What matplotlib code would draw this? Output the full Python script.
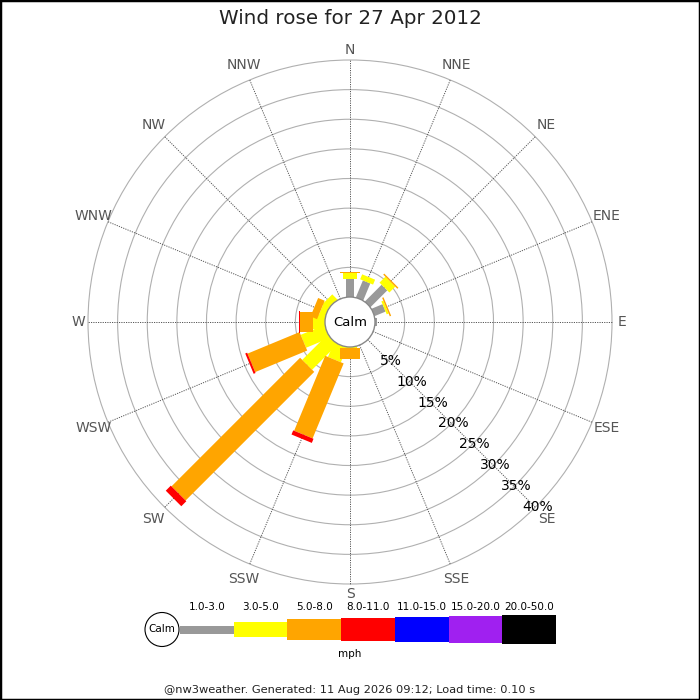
import numpy as np
import matplotlib
matplotlib.use("Agg")
import matplotlib.pyplot as plt
from matplotlib.patches import Circle, Polygon, Rectangle

TITLE = "Wind rose for 27 Apr 2012"
FOOTER = "@nw3weather. Generated: 11 Aug 2026 09:12; Load time: 0.10 s"
UNIT = "mph"

DIRECTIONS = ["N", "NNE", "NE", "ENE", "E", "ESE", "SE", "SSE",
              "S", "SSW", "SW", "WSW", "W", "WNW", "NW", "NNW"]
SPEED_BANDS = ["1.0-3.0", "3.0-5.0", "5.0-8.0", "8.0-11.0",
               "11.0-15.0", "15.0-20.0", "20.0-50.0"]
BAND_COLORS = ["#999999", "#ffff00", "#ffa500", "#ff0000",
               "#0000ff", "#a020f0", "#000000"]

# % of the day per direction, per speed band (only the first four occur)
band_1_3 = [3.0, 3.1, 4.0, 2.0, 0.4, 0, 0, 0, 0, 0, 0, 0, 0, 0, 0, 0]
band_3_5 = [1.0, 0.9, 1.4, 0.35, 0, 0, 0, 0, 0.2, 2.65, 6.0, 4.3, 2.0, 1.1, 1.2, 0]
band_5_8 = [0.25, 0, 0.25, 0.25, 0, 0, 0, 0, 1.9, 13.7, 30.7, 9.5, 2.2, 1.2, 0, 0]
band_8_11 = [0, 0, 0, 0, 0, 0, 0, 0, 0, 0.75, 1.2, 0.35, 0.25, 0, 0, 0]
RING_PCTS = [5, 10, 15, 20, 25, 30, 35, 40]

# layout (1 data unit = 1 px, origin at rose centre)
CALM_R = 25
OUTER_R = 262
PX_PER_PCT = (OUTER_R - CALM_R) / RING_PCTS[-1]
BAR_W = [8, 14, 20, 22, 24, 26, 28]
LEG_H = [8, 15, 21.5, 23.5, 25, 27, 29]
LABEL_GREY = "#555555"

fig = plt.figure(figsize=(7, 7), dpi=100)
ax = fig.add_axes([0, 0, 1, 1])
ax.set_xlim(-350, 350)
ax.set_ylim(-378, 322)
ax.set_aspect("equal")
ax.axis("off")

# grid rings + spokes
for p in RING_PCTS:
    ax.add_patch(Circle((0, 0), CALM_R + p * PX_PER_PCT, fill=False,
                        ec="#b0b0b0", lw=0.8, zorder=1))
angles = np.deg2rad(np.arange(len(DIRECTIONS)) * 360 / len(DIRECTIONS))
for name, a in zip(DIRECTIONS, angles):
    u = np.array([np.sin(a), np.cos(a)])
    ax.plot([CALM_R * u[0], OUTER_R * u[0]], [CALM_R * u[1], OUTER_R * u[1]],
            ls=(0, (1.2, 1.2)), color="#555555", lw=0.7, zorder=1)
    lr = 272 if name in ("N", "E", "S", "W") else 278
    ax.text(lr * u[0], lr * u[1], name, ha="center", va="center",
            fontsize=10, color=LABEL_GREY)

# bars
bands = [band_1_3, band_3_5, band_5_8, band_8_11]
for d, a in enumerate(angles):
    u = np.array([np.sin(a), np.cos(a)])
    v = np.array([np.cos(a), -np.sin(a)])
    r = CALM_R
    for b, vals in enumerate(bands):
        val = vals[d]
        if val <= 0:
            continue
        r1 = r + val * PX_PER_PCT
        r0 = 0 if r == CALM_R else r
        hw = BAR_W[b] / 2
        pts = [r0 * u + hw * v, r1 * u + hw * v, r1 * u - hw * v, r0 * u - hw * v]
        ax.add_patch(Polygon(pts, closed=True, fc=BAND_COLORS[b], ec="none",
                             zorder=2 + b * 0.1))
        r = r1

# calm circle
ax.add_patch(Circle((0, 0), CALM_R, fc="white", ec="#888888", lw=1, zorder=5))
ax.text(0, 0, "Calm", ha="center", va="center", fontsize=9.5, zorder=6)

# ring labels along SE
se = np.deg2rad(135)
for p in RING_PCTS:
    rr = CALM_R + p * PX_PER_PCT
    ax.text(rr * np.sin(se) + 2, rr * np.cos(se), f"{p}%", ha="center",
            va="center", fontsize=10, zorder=6)

# legend
leg_y = -307.5
leg_x0 = -170
seg = 53.7
ax.add_patch(Circle((-188, leg_y), 17, fc="white", ec="black", lw=0.8, zorder=6))
ax.text(-188, leg_y, "Calm", ha="center", va="center", fontsize=7.5, zorder=7)
for i, (lab, col) in enumerate(zip(SPEED_BANDS, BAND_COLORS)):
    x = leg_x0 + i * seg
    h = LEG_H[i]
    ax.add_patch(Rectangle((x, leg_y - h / 2), seg, h, fc=col, ec="none", zorder=5))
    ax.text(x + seg / 2, -285, lab, ha="center", va="center", fontsize=7.5)
ax.text(0, -332, UNIT, ha="center", va="center", fontsize=7.5)

ax.text(0, 304, TITLE, ha="center", va="center", fontsize=14.3, color="#222222")
ax.text(0, -368, FOOTER, ha="center", va="center", fontsize=8.2, color="#222222")

fig.patches.append(Rectangle((0, 0), 1, 1, transform=fig.transFigure,
                             fill=False, ec="black", lw=2.5))
fig.savefig("out.png", dpi=100)
